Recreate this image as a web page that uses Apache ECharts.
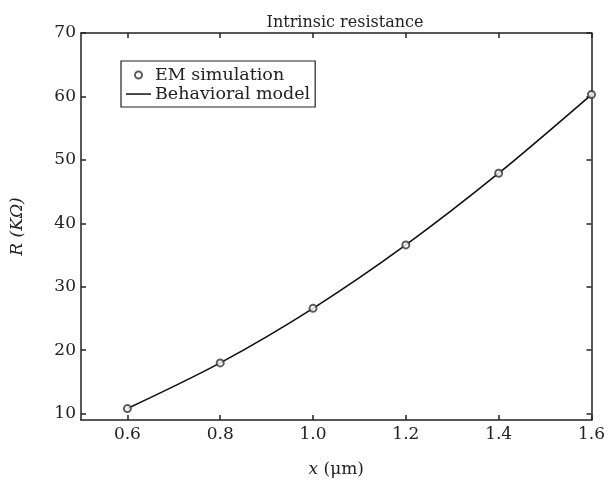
<!DOCTYPE html>
<html>
<head>
<meta charset="utf-8">
<script src="https://cdn.jsdelivr.net/npm/echarts@6/dist/echarts.min.js"></script>
<style>html,body{margin:0;padding:0;background:#fff;}#c{width:608px;height:483px;}</style>
</head>
<body>
<div id="c"></div>
<script>
var xValues = [0.6, 0.8, 1.0, 1.2, 1.4, 1.6];
var emValues = [10.8, 18.0, 26.6, 36.6, 47.9, 60.3];
var modelValues = [10.8, 18.0, 26.6, 36.6, 47.9, 60.3];
var xTicks = [0.6, 0.8, 1.0, 1.2, 1.4, 1.6];
var yTicks = [10, 20, 30, 40, 50, 60, 70];

var FONT = 'DejaVu Serif';
var INK = '#222';

function pairs(xs, ys) { return xs.map(function (x, i) { return [x, ys[i]]; }); }

var chart = echarts.init(document.getElementById('c'), null, {renderer: 'canvas'});
var axisLine = {show: true, onZero: false, lineStyle: {color: INK, width: 1.5}};
var option = {
  animation: false,
  backgroundColor: '#fff',
  title: {
    text: 'Intrinsic resistance',
    left: 340, top: 10, textAlign: 'center',
    textStyle: {fontFamily: FONT, fontSize: 16, fontWeight: 'normal', color: INK}
  },
  grid: {left: 81, right: 9, top: 33, bottom: 59, containLabel: false},
  legend: {
    orient: 'vertical', left: 121, top: 61,
    padding: [5, 5, 4, 5], itemGap: 1,
    itemWidth: 25, itemHeight: 7,
    symbolKeepAspect: true,
    borderColor: INK, borderWidth: 1.2, borderRadius: 0,
    textStyle: {fontFamily: FONT, fontSize: 17.5, color: INK, padding: [0, 0, 0, -1]},
    data: [
      {name: 'EM simulation', icon: 'emptyCircle'},
      {name: 'Behavioral model', icon: 'path://M0,0M25,7M0,2.8L25,2.8L25,4.3L0,4.3Z'}
    ]
  },
  xAxis: [{
    type: 'value', min: 0.5, max: 1.6, position: 'bottom',
    axisLine: axisLine,
    axisTick: {show: true, inside: true, length: 5, customValues: xTicks, lineStyle: {color: INK, width: 1.5}},
    axisLabel: {customValues: xTicks, margin: 6, fontFamily: FONT, fontSize: 17, color: INK,
      formatter: function (v) { return v.toFixed(1); }},
    splitLine: {show: false},
    name: '{i|x} (μm)', nameLocation: 'middle', nameGap: 41,
    nameTextStyle: {fontFamily: FONT, fontSize: 17, color: INK,
      rich: {i: {fontFamily: FONT, fontStyle: 'italic', fontSize: 17, color: INK}}}
  }, {
    type: 'value', min: 0.5, max: 1.6, position: 'top',
    axisLine: axisLine,
    axisTick: {show: true, inside: true, length: 5, customValues: xTicks, lineStyle: {color: INK, width: 1.5}},
    axisLabel: {show: false},
    splitLine: {show: false}
  }],
  yAxis: [{
    type: 'value', min: 9, max: 70, position: 'left',
    axisLine: axisLine,
    axisTick: {show: true, inside: true, length: 5, customValues: yTicks, lineStyle: {color: INK, width: 1.5}},
    axisLabel: {customValues: yTicks, margin: 5, fontFamily: FONT, fontSize: 17, color: INK},
    splitLine: {show: false},
    name: 'R (KΩ)', nameLocation: 'middle', nameGap: 55,
    nameTextStyle: {fontFamily: FONT, fontSize: 17, fontStyle: 'italic', color: INK}
  }, {
    type: 'value', min: 9, max: 70, position: 'right',
    axisLine: axisLine,
    axisTick: {show: true, inside: true, length: 5, customValues: yTicks, lineStyle: {color: INK, width: 1.5}},
    axisLabel: {show: false},
    splitLine: {show: false}
  }],
  series: [{
    name: 'Behavioral model', type: 'line', smooth: 0.3,
    symbol: 'none', data: pairs(xValues, modelValues), z: 2,
    lineStyle: {color: '#111', width: 1.6}, itemStyle: {color: '#111'}
  }, {
    name: 'EM simulation', type: 'scatter',
    symbol: 'emptyCircle', symbolSize: 7,
    data: pairs(xValues, emValues), z: 3,
    itemStyle: {color: '#333', borderColor: '#333', borderWidth: 1.1}
  }]
};
chart.setOption(option);
</script>
</body>
</html>
